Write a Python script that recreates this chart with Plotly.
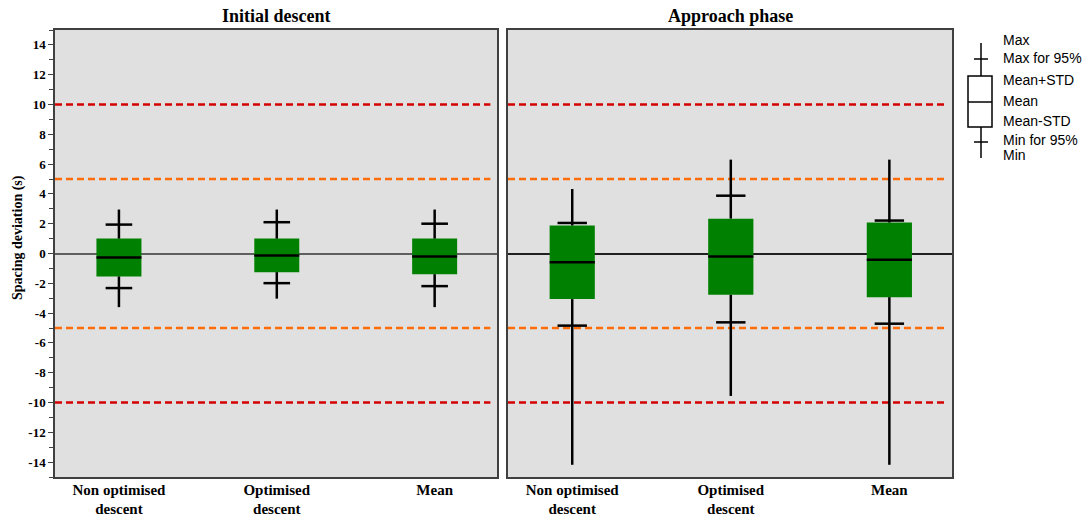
import plotly.graph_objects as go

# ---- data -------------------------------------------------------------
categories = ["Non optimised<br>descent", "Optimised<br>descent", "Mean"]
panel_titles = ["Initial descent", "Approach phase"]

# Initial descent
init_mean = [-0.27, -0.13, -0.20]
init_upper = [1.00, 1.00, 1.00]      # mean + STD
init_lower = [-1.54, -1.25, -1.39]   # mean - STD
init_max95 = [1.94, 2.10, 2.00]
init_min95 = [-2.32, -1.99, -2.19]
init_max = [2.95, 2.95, 2.95]
init_min = [-3.60, -3.03, -3.60]

# Approach phase
appr_mean = [-0.58, -0.20, -0.42]
appr_upper = [1.88, 2.34, 2.08]
appr_lower = [-3.06, -2.77, -2.93]
appr_max95 = [2.05, 3.88, 2.21]
appr_min95 = [-4.84, -4.62, -4.71]
appr_max = [4.33, 6.30, 6.30]
appr_min = [-14.18, -9.56, -14.18]

y_ticks = list(range(-14, 15, 2))
limit_inner = 5
limit_outer = 10

legend_labels = ["Max", "Max for 95%", "Mean+STD", "Mean", "Mean-STD", "Min for 95%", "Min"]

# ---- styling ----------------------------------------------------------
SERIF = "Liberation Serif, Times New Roman, serif"
SANS = "Liberation Sans, Arial, sans-serif"
GREEN = "#008000"
ORANGE = "#ff6d0a"
RED = "#d40000"
BOX_W = 0.285

W, H = 1090, 517
ML, MR, MT, MB = 55, 138, 30, 40
PW, PH = W - ML - MR, H - MT - MB


def px(x):
    return (x - ML) / PW


def py(y):
    return (H - MB - y) / PH


fig = go.Figure()

panels = [
    dict(mean=init_mean, up=init_upper, lo=init_lower, mx95=init_max95, mn95=init_min95,
         mx=init_max, mn=init_min, xa="x", ya="y", cap=19),
    dict(mean=appr_mean, up=appr_upper, lo=appr_lower, mx95=appr_max95, mn95=appr_min95,
         mx=appr_max, mn=appr_min, xa="x2", ya="y2", cap=21),
]

for p in panels:
    xs = list(range(len(categories)))
    # whiskers: box top -> max, box bottom -> min
    wx, wy = [], []
    for i in xs:
        wx += [i, i, None, i, i, None]
        wy += [p["up"][i], p["mx"][i], None, p["lo"][i], p["mn"][i], None]
    fig.add_trace(go.Scatter(x=wx, y=wy, mode="lines", line=dict(color="black", width=2.5),
                             xaxis=p["xa"], yaxis=p["ya"], hoverinfo="skip", showlegend=False))
    # mean +/- STD box
    fig.add_trace(go.Bar(x=xs, y=[u - l for u, l in zip(p["up"], p["lo"])], base=p["lo"],
                         width=BOX_W, marker=dict(color=GREEN, line=dict(width=0)),
                         xaxis=p["xa"], yaxis=p["ya"], showlegend=False))
    # mean line
    mx_, my_ = [], []
    for i in xs:
        mx_ += [i - BOX_W / 2, i + BOX_W / 2, None]
        my_ += [p["mean"][i], p["mean"][i], None]
    fig.add_trace(go.Scatter(x=mx_, y=my_, mode="lines", line=dict(color="black", width=2.5),
                             xaxis=p["xa"], yaxis=p["ya"], hoverinfo="skip", showlegend=False))
    # 95% caps
    fig.add_trace(go.Scatter(x=xs + xs, y=p["mx95"] + p["mn95"], mode="markers",
                             marker=dict(symbol="line-ew", size=p["cap"],
                                         line=dict(color="black", width=2.5)),
                             xaxis=p["xa"], yaxis=p["ya"], hoverinfo="skip", showlegend=False))

# limit lines
shapes = []
for xref in ["x domain", "x2 domain"]:
    yref = "y" if xref == "x domain" else "y2"
    for val, col in [(limit_outer, RED), (-limit_outer, RED), (limit_inner, ORANGE), (-limit_inner, ORANGE)]:
        shapes.append(dict(type="line", xref=xref, yref=yref, x0=0, x1=0.985, y0=val, y1=val,
                           line=dict(color=col, width=2.5, dash="7px,4px"), layer="below"))

# legend glyph (drawn in paper coordinates)
lx, lx0, lx1 = 981, 968, 992
cx0, cx1 = 974, 988
g_top, g_box_t, g_mid, g_box_b, g_bot = 43, 76, 102, 127, 158
g_cap_t, g_cap_b = 59, 142
lk = dict(color="black", width=1.5)
for y0, y1 in [(g_top, g_box_t), (g_box_b, g_bot)]:
    shapes.append(dict(type="line", xref="paper", yref="paper", x0=px(lx), x1=px(lx),
                       y0=py(y0), y1=py(y1), line=lk))
for yc in [g_cap_t, g_cap_b]:
    shapes.append(dict(type="line", xref="paper", yref="paper", x0=px(cx0), x1=px(cx1),
                       y0=py(yc), y1=py(yc), line=lk))
shapes.append(dict(type="rect", xref="paper", yref="paper", x0=px(lx0), x1=px(lx1),
                   y0=py(g_box_b), y1=py(g_box_t), line=lk, fillcolor="white"))
shapes.append(dict(type="line", xref="paper", yref="paper", x0=px(lx0), x1=px(lx1),
                   y0=py(g_mid), y1=py(g_mid), line=lk))

annotations = []
for lab, yc in zip(legend_labels, [40, 58, 80, 101, 121, 140, 155]):
    annotations.append(dict(text=lab, xref="paper", yref="paper", x=px(1001), y=py(yc),
                            xanchor="left", yanchor="middle", showarrow=False,
                            font=dict(family=SANS, size=14, color="black")))

dom1 = [0, px(497)]
dom2 = [px(508), 1]
for t, d in zip(panel_titles, [dom1, dom2]):
    annotations.append(dict(text=t, xref="paper", yref="paper", x=(d[0] + d[1]) / 2, y=py(16),
                            xanchor="center", yanchor="middle", showarrow=False,
                            font=dict(family=SERIF, size=18, color="black", weight="bold")))

annotations.append(dict(text="Spacing deviation (s)", xref="paper", yref="paper", x=px(18), y=py(238),
                        xanchor="center", yanchor="middle", textangle=-90, showarrow=False,
                        font=dict(family=SERIF, size=14, color="black", weight="bold")))

xcommon = dict(range=[-0.405, 2.395], tickmode="array", tickvals=list(range(len(categories))),
               ticktext=categories, ticks="", showgrid=False, zeroline=False, automargin=False,
               ticklabelstandoff=-2,
               showline=True, mirror=True, linecolor="#404040", linewidth=1.5,
               tickfont=dict(family=SERIF, size=15, color="black", weight="bold"))
ycommon = dict(range=[-15, 15], showgrid=False, zeroline=True, zerolinewidth=1.5, automargin=False,
               showline=True, mirror=True, linecolor="#404040", linewidth=1.5)

fig.update_layout(
    width=W, height=H, autosize=False,
    margin=dict(l=ML, r=MR, t=MT, b=MB),
    paper_bgcolor="white", plot_bgcolor="#e0e0e0",
    barmode="overlay", showlegend=False,
    xaxis=dict(domain=dom1, anchor="y", **xcommon),
    xaxis2=dict(domain=dom2, anchor="y2", **xcommon),
    yaxis=dict(anchor="x", tickmode="array", tickvals=y_ticks, ticktext=[str(v) for v in y_ticks],
               ticks="outside", ticklen=5, tickcolor="#404040",
               minor=dict(ticks="outside", ticklen=4, dtick=1, tick0=0, tickcolor="#404040"),
               zerolinecolor="#5f5f5f",
               tickfont=dict(family=SERIF, size=13, color="black", weight="bold"), **ycommon),
    yaxis2=dict(anchor="x2", showticklabels=False, ticks="", zerolinecolor="#202020", **ycommon),
    shapes=shapes, annotations=annotations,
)

fig.write_html("out.html")
